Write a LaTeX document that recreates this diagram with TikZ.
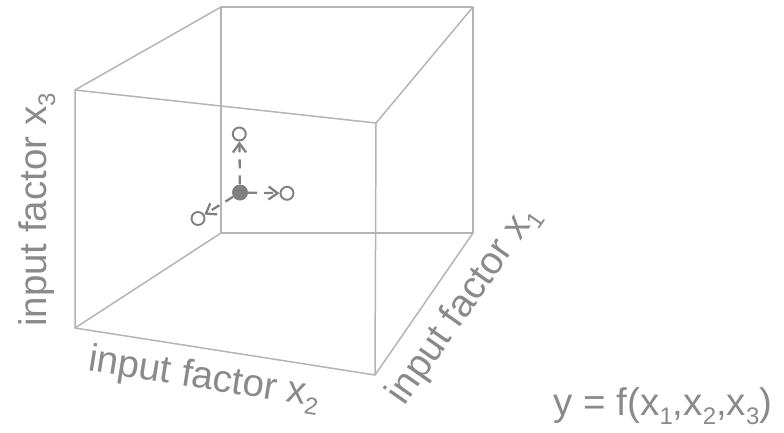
\documentclass[tikz,border=0pt]{standalone}
\usepackage{fontspec}
\setmainfont{Liberation Sans}
\usetikzlibrary{arrows.meta}
\definecolor{edgegray}{HTML}{B4B4B4}
\definecolor{txtgray}{HTML}{8A8A8A}
\definecolor{ptgray}{HTML}{808080}
\newcommand\sbs[1]{\raisebox{-0.22em}{\fontsize{24}{24}\selectfont #1}}
\tikzset{
  cubeedge/.style={draw=edgegray, line width=1.5pt, line join=round},
  opencirc/.style={circle, draw=ptgray, fill=white, line width=1.9pt, minimum size=13pt, inner sep=0pt},
  filldot/.style={circle, fill=ptgray, minimum size=16pt, inner sep=0pt},
  dasharrow/.style={draw=ptgray, line width=2.3pt, dash pattern=on 9pt off 7pt,
    -{Straight Barb[length=9pt,width=13pt,line width=2.3pt]}},
  lbl/.style={text=txtgray, font=\fontsize{38.5}{42}\selectfont, inner sep=0pt}
}
\begin{document}
\begin{tikzpicture}[x=1pt,y=-1pt]
\useasboundingbox (0,0) rectangle (784,432);
% cube corners
\coordinate (A) at (75,90);
\coordinate (B) at (376,123);
\coordinate (C) at (375,375);
\coordinate (D) at (75,328);
\coordinate (E) at (221,7);
\coordinate (F) at (473,7);
\coordinate (G) at (473,233);
\coordinate (H) at (221,233);
\draw[cubeedge] (A) -- (B) -- (C) -- (D) -- cycle;
\draw[cubeedge] (E) -- (F) -- (G) -- (H) -- cycle;
\draw[cubeedge] (A) -- (E);
\draw[cubeedge] (B) -- (F);
\draw[cubeedge] (C) -- (G);
\draw[cubeedge] (D) -- (H);
% points
\node[filldot] (p) at (240,192.5) {};
\node[opencirc] (u) at (239.3,134) {};
\node[opencirc] (r) at (287,193.3) {};
\node[opencirc] (l) at (198,218.5) {};
\draw[dasharrow] (p) -- (u);
\draw[dasharrow] (p) -- (r);
\draw[dasharrow] (p) -- (l);
% labels
\node[lbl, rotate=90] (lx3) at (37,210) {input factor x\sbs{3}};
\node[lbl, rotate=-9] (lx2) at (204,379) {input factor x\sbs{2}};
\node[lbl, rotate=55] (lx1) at (464,305) {input factor x\sbs{1}};
\node[lbl] (fy) at (663,406) {y = f(x\sbs{1},x\sbs{2},x\sbs{3})};
\end{tikzpicture}
\end{document}
